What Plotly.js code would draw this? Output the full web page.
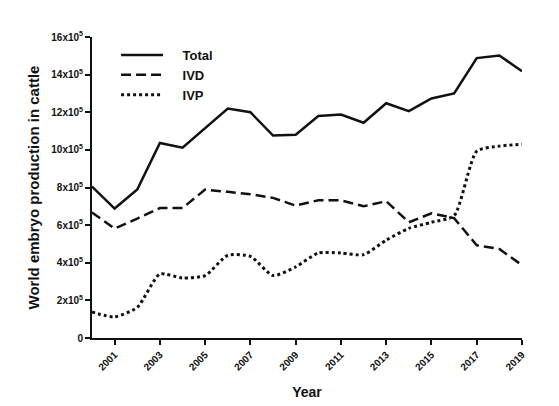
<!DOCTYPE html>
<html>
<head>
<meta charset="utf-8">
<script src="https://cdn.plot.ly/plotly-3.0.1.min.js"></script>
<style>html,body{margin:0;padding:0;background:#fff;}#chart{width:559px;height:406px;}</style>
</head>
<body>
<div id="chart"></div>
<script>
var years = [2000,2001,2002,2003,2004,2005,2006,2007,2008,2009,2010,2011,2012,2013,2014,2015,2016,2017,2018,2019];
var total = [805000,688000,789000,1037000,1012000,1117000,1220000,1200000,1076000,1080000,1180000,1188000,1144000,1248000,1206000,1273000,1300000,1488000,1502000,1418000];
var ivd = [667000,582000,635000,691000,691000,789000,777000,764000,745000,704000,732000,732000,700000,727000,615000,663000,637000,493000,473000,387000];
var ivp = [138000,112000,163000,340000,319000,332000,440000,434000,332000,378000,452000,452000,443000,520000,583000,615000,650000,993000,1020000,1030000];
var seriesNames = ["Total","IVD","IVP"];
var yTickVals = [0,200000,400000,600000,800000,1000000,1200000,1400000,1600000];
var yTickText = ["0","2x10<sup>5</sup>","4x10<sup>5</sup>","6x10<sup>5</sup>","8x10<sup>5</sup>","10x10<sup>5</sup>","12x10<sup>5</sup>","14x10<sup>5</sup>","16x10<sup>5</sup>"];
var xTickVals = [2001,2003,2005,2007,2009,2011,2013,2015,2017,2019];

var fontFam = "Liberation Sans, Arial, sans-serif";
var pad = "\u00a0\u00a0\u00a0\u00a0";
var traces = [
  {x: years, y: total, name: pad + seriesNames[0], mode: "lines", line: {color: "#111", width: 2.5}},
  {x: years, y: ivd, name: pad + seriesNames[1], mode: "lines", line: {color: "#111", width: 2.5, dash: "10px,5px"}},
  {x: years, y: ivp, name: pad + seriesNames[2], mode: "lines", line: {color: "#111", width: 3, dash: "dot", shape: "spline", smoothing: 0.6}}
];
var layout = {
  width: 559, height: 406,
  margin: {l: 92, r: 37, t: 37, b: 68},
  paper_bgcolor: "#fff", plot_bgcolor: "#fff",
  font: {family: fontFam, color: "#111"},
  showlegend: true,
  legend: {x: 0.056, y: 0.99, xanchor: "left", yanchor: "top", bgcolor: "rgba(0,0,0,0)", itemwidth: 42,
           font: {family: fontFam, size: 13, color: "#111", weight: "bold"}, tracegroupgap: 0},
  xaxis: {
    range: [2000, 2019], showgrid: false, zeroline: false,
    showline: true, linecolor: "#111", linewidth: 2,
    ticks: "outside", ticklen: 5, tickwidth: 2, tickcolor: "#111",
    tickvals: xTickVals, ticktext: xTickVals.map(String), tickangle: -45,
    tickfont: {family: fontFam, size: 10, color: "#111", weight: "bold"},
    title: {text: "Year", font: {family: fontFam, size: 14, color: "#111", weight: "bold"}, standoff: 16}
  },
  yaxis: {
    range: [0, 1600000], showgrid: false, zeroline: false,
    showline: true, linecolor: "#111", linewidth: 2,
    ticks: "outside", ticklen: 5, tickwidth: 2, tickcolor: "#111",
    tickvals: yTickVals, ticktext: yTickText,
    tickfont: {family: fontFam, size: 10, color: "#111", weight: "bold"},
    title: {text: "World embryo production in cattle", font: {family: fontFam, size: 15, color: "#111", weight: "bold"}, standoff: 8}
  }
};
Plotly.newPlot("chart", traces, layout, {displayModeBar: false, staticPlot: true});
</script>
</body>
</html>
